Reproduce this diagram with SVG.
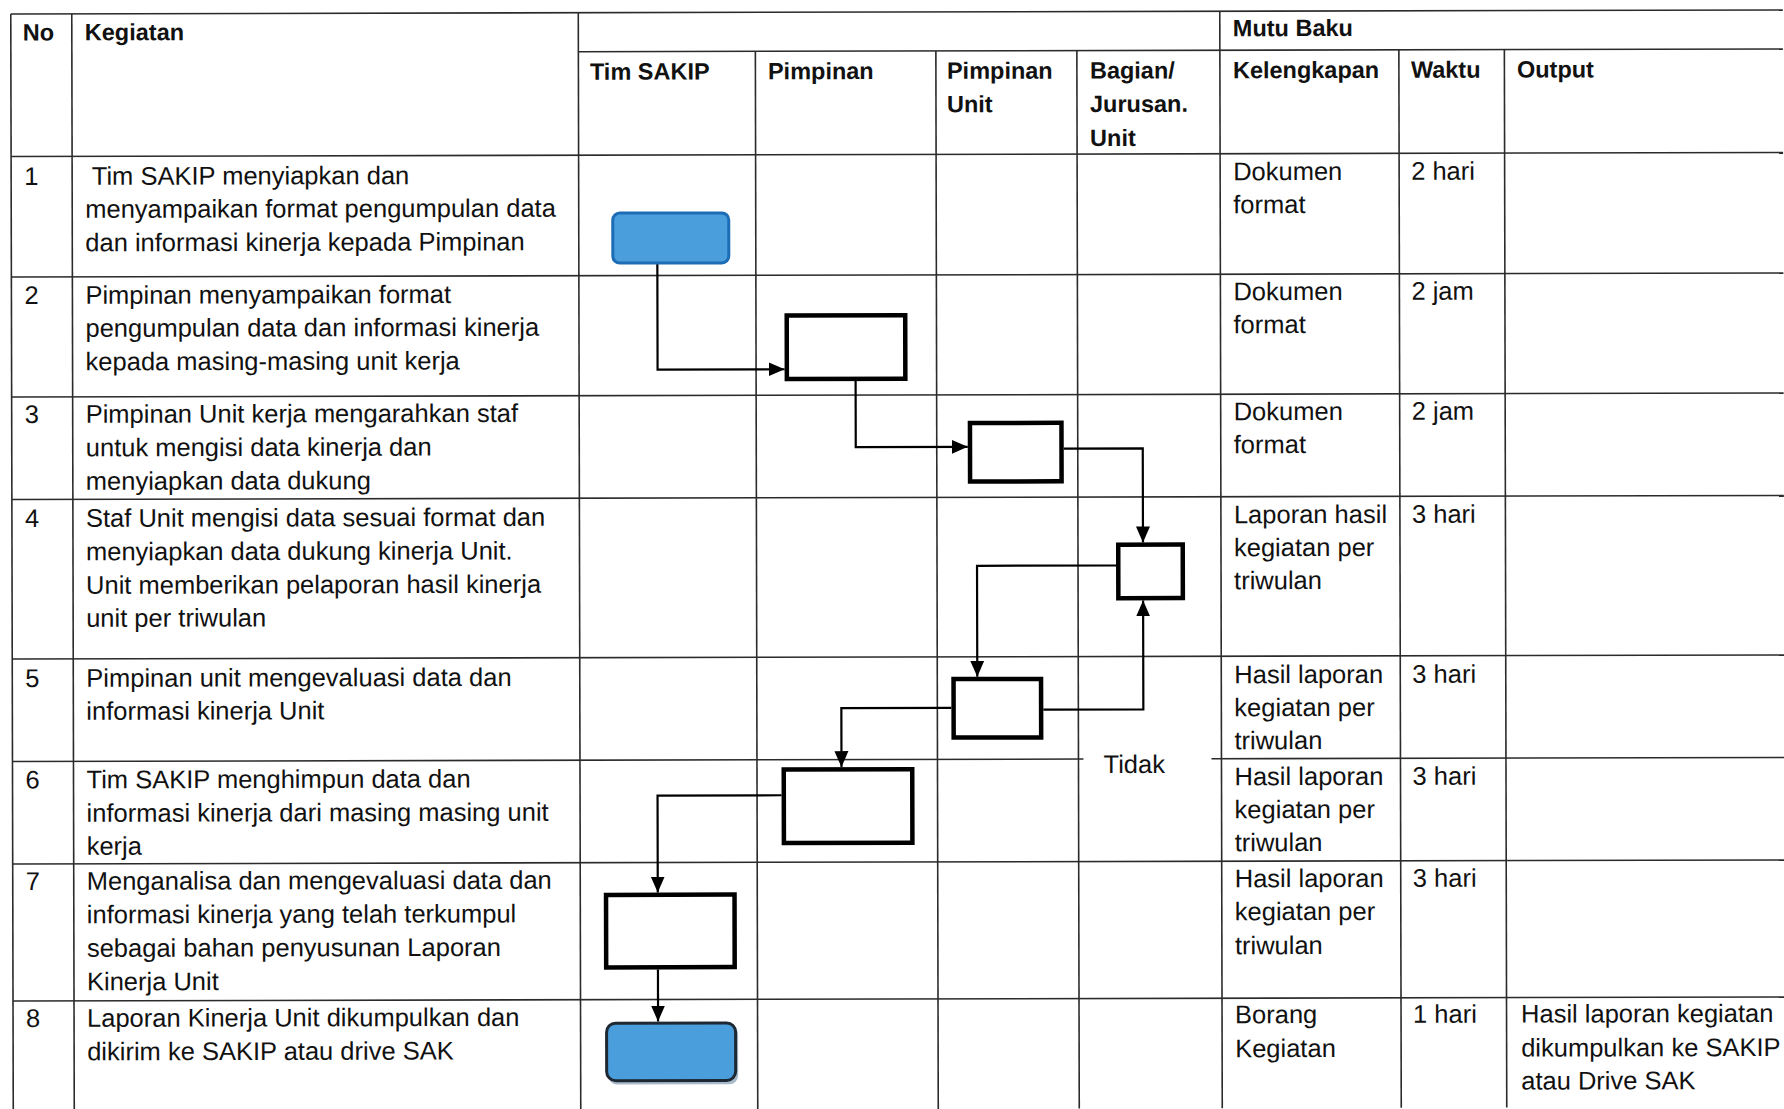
<svg xmlns="http://www.w3.org/2000/svg" width="1784" height="1109" viewBox="0 0 1784 1109">
<style>
  .grid line { stroke:#2b2b2b; stroke-width:1.6; }
  text { font-family:"Liberation Sans", Arial, sans-serif; fill:#111; }
  .b { font-size:23.5px; font-weight:bold; }
  .t { font-size:25.5px; }
  .box { fill:#fff; stroke:#000; stroke-width:4.5; }
  .blue { fill:#4a9edc; }
  .conn { fill:none; stroke:#000; stroke-width:2.2; }
</style>
<defs>
  <marker id="arr" markerUnits="userSpaceOnUse" markerWidth="16" markerHeight="16" viewBox="0 0 16 16" refX="16" refY="8" orient="auto">
    <path d="M0,1 L16,8 L0,15 Z" fill="#000"/>
  </marker>
</defs>
<rect width="1784" height="1109" fill="#fff"/>
<g transform="rotate(-0.13 892 554)">
  <g id="table" class="grid">
    <line x1="12" y1="12" x2="1784" y2="12"/>
    <line x1="579.5" y1="51" x2="1784" y2="51"/>
    <line x1="12" y1="154.5" x2="1784" y2="154.5"/>
    <line x1="12" y1="275" x2="1784" y2="275"/>
    <line x1="12" y1="395" x2="1784" y2="395"/>
    <line x1="12" y1="497.5" x2="1784" y2="497.5"/>
    <line x1="12" y1="657" x2="1784" y2="657"/>
    <line x1="12" y1="759.5" x2="1083" y2="759.5"/>
    <line x1="1211" y1="759.5" x2="1784" y2="759.5"/>
    <line x1="12" y1="862" x2="1784" y2="862"/>
    <line x1="12" y1="999" x2="1784" y2="999"/>
    <line x1="12" y1="12" x2="12" y2="1109"/>
    <line x1="73" y1="12" x2="73" y2="1109"/>
    <line x1="579.5" y1="12" x2="579.5" y2="1109"/>
    <line x1="756.5" y1="51" x2="756.5" y2="1109"/>
    <line x1="937" y1="51" x2="937" y2="1109"/>
    <line x1="1078" y1="51" x2="1078" y2="1109"/>
    <line x1="1221" y1="12" x2="1221" y2="1109"/>
    <line x1="1400" y1="51" x2="1400" y2="1109"/>
    <line x1="1505.5" y1="51" x2="1505.5" y2="1109"/>
  </g>
  <g id="header">
    <text class="b" x="24" y="38.5">No</text>
    <text class="b" x="86" y="38.5">Kegiatan</text>
    <text class="b" x="1234" y="37">Mutu Baku</text>
    <text class="b" x="591" y="79">Tim SAKIP</text>
    <text class="b" x="769" y="79">Pimpinan</text>
    <text class="b" x="948" y="79">Pimpinan</text>
    <text class="b" x="948" y="112.5">Unit</text>
    <text class="b" x="1091" y="79">Bagian/</text>
    <text class="b" x="1091" y="112.5">Jurusan.</text>
    <text class="b" x="1091" y="146.5">Unit</text>
    <text class="b" x="1234" y="79">Kelengkapan</text>
    <text class="b" x="1412" y="79">Waktu</text>
    <text class="b" x="1518" y="79">Output</text>
  </g>
  <g id="rows" class="t">
    <text x="25" y="183">1</text>
    <text x="86" y="183" xml:space="preserve"> Tim SAKIP menyiapkan dan</text>
    <text x="86" y="216">menyampaikan format pengumpulan data</text>
    <text x="86" y="249.5">dan informasi kinerja kepada Pimpinan</text>
    <text x="1234" y="181">Dokumen</text><text x="1234" y="214">format</text>
    <text x="1412" y="181">2 hari</text>

    <text x="25" y="302">2</text>
    <text x="86" y="302">Pimpinan menyampaikan format</text>
    <text x="86" y="335">pengumpulan data dan informasi kinerja</text>
    <text x="86" y="368.5">kepada masing-masing unit kerja</text>
    <text x="1234" y="301">Dokumen</text><text x="1234" y="334">format</text>
    <text x="1412" y="301">2 jam</text>

    <text x="25" y="421">3</text>
    <text x="86" y="421">Pimpinan Unit kerja mengarahkan staf</text>
    <text x="86" y="454.5">untuk mengisi data kinerja dan</text>
    <text x="86" y="488">menyiapkan data dukung</text>
    <text x="1234" y="421">Dokumen</text><text x="1234" y="454">format</text>
    <text x="1412" y="421">2 jam</text>

    <text x="25" y="525">4</text>
    <text x="86" y="525">Staf Unit mengisi data sesuai format dan</text>
    <text x="86" y="558.5">menyiapkan data dukung kinerja Unit.</text>
    <text x="86" y="592">Unit memberikan pelaporan hasil kinerja</text>
    <text x="86" y="625">unit per triwulan</text>
    <text x="1234" y="524">Laporan hasil</text><text x="1234" y="557">kegiatan per</text><text x="1234" y="590">triwulan</text>
    <text x="1412" y="524">3 hari</text>

    <text x="25" y="685">5</text>
    <text x="86" y="685">Pimpinan unit mengevaluasi data dan</text>
    <text x="86" y="718">informasi kinerja Unit</text>
    <text x="1234" y="684">Hasil laporan</text><text x="1234" y="717">kegiatan per</text><text x="1234" y="750">triwulan</text>
    <text x="1412" y="684">3 hari</text>
    <text x="1103" y="773.5">Tidak</text>

    <text x="25" y="786.5">6</text>
    <text x="86" y="786.5">Tim SAKIP menghimpun data dan</text>
    <text x="86" y="820">informasi kinerja dari masing masing unit</text>
    <text x="86" y="853">kerja</text>
    <text x="1234" y="786">Hasil laporan</text><text x="1234" y="819">kegiatan per</text><text x="1234" y="852">triwulan</text>
    <text x="1412" y="786">3 hari</text>

    <text x="25" y="888">7</text>
    <text x="86" y="888">Menganalisa dan mengevaluasi data dan</text>
    <text x="86" y="921.5">informasi kinerja yang telah terkumpul</text>
    <text x="86" y="955">sebagai bahan penyusunan Laporan</text>
    <text x="86" y="988.5">Kinerja Unit</text>
    <text x="1234" y="888">Hasil laporan</text><text x="1234" y="921">kegiatan per</text><text x="1234" y="955">triwulan</text>
    <text x="1412" y="888">3 hari</text>

    <text x="25" y="1025">8</text>
    <text x="86" y="1025">Laporan Kinerja Unit dikumpulkan dan</text>
    <text x="86" y="1058.5">dikirim ke SAKIP atau drive SAK</text>
    <text x="1234" y="1024">Borang</text><text x="1234" y="1058">Kegiatan</text>
    <text x="1412" y="1024">1 hari</text>
    <text x="1520" y="1024">Hasil laporan kegiatan</text>
    <text x="1520" y="1058">dikumpulkan ke SAKIP</text>
    <text x="1520" y="1091">atau Drive SAK</text>
  </g>
  <g id="connectors">
    <path class="conn" d="M658,263 V369 H785" marker-end="url(#arr)"/>
    <path class="conn" d="M856,381 V447 H968" marker-end="url(#arr)"/>
    <path class="conn" d="M1064,449 H1143 V543" marker-end="url(#arr)"/>
    <path class="conn" d="M1116,566 H977 V677" marker-end="url(#arr)"/>
    <path class="conn" d="M1043,710 H1143 V601" marker-end="url(#arr)"/>
    <path class="conn" d="M951,708 H841 V767" marker-end="url(#arr)"/>
    <path class="conn" d="M781,795 H657 V892" marker-end="url(#arr)"/>
    <path class="conn" d="M657,969 V1021" marker-end="url(#arr)"/>
  </g>
  <g id="n1"><rect class="blue" x="613.5" y="212.5" width="116" height="50" rx="7" stroke="#1c6db5" stroke-width="3"/></g>
  <g id="n2"><rect class="box" x="787.25" y="315.25" width="118.5" height="63.5"/></g>
  <g id="n3"><rect class="box" x="970.25" y="423.25" width="91.5" height="58.5"/></g>
  <g id="n4"><rect class="box" x="1118.25" y="545.25" width="64.5" height="53.5"/></g>
  <g id="n5"><rect class="box" x="953.25" y="679.25" width="87.5" height="58.5"/></g>
  <g id="n6"><rect class="box" x="783.25" y="769.25" width="128.5" height="73.5"/></g>
  <g id="n7"><rect class="box" x="605.25" y="894.25" width="128.5" height="72.5"/></g>
  <g id="n8">
    <rect x="607" y="1025" width="130" height="59" rx="9" fill="#6f8ea6" opacity="0.6"/>
    <rect class="blue" x="605.5" y="1022.5" width="129" height="57.5" rx="9" stroke="#1d2833" stroke-width="3"/>
  </g>
</g>
</svg>
